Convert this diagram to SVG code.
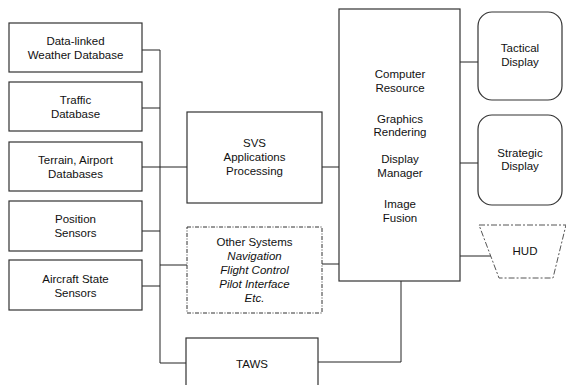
<svg xmlns="http://www.w3.org/2000/svg" width="566" height="385" viewBox="0 0 566 385">
  <style>
    .box { fill: #fff; stroke: #333; stroke-width: 1.2; }
    .dash { fill: #fff; stroke: #333; stroke-width: 1; stroke-dasharray: 4 1.5 1 1.5; }
    .hud { fill: #fff; stroke: #555; stroke-width: 1; stroke-dasharray: 6 2 2 2; }
    .wire { fill: none; stroke: #222; stroke-width: 1; }
    text { font-family: "Liberation Sans", Arial, sans-serif; font-size: 11.5px; fill: #111; text-anchor: middle; }
    .it { font-style: italic; }
  </style>
  <rect width="566" height="385" fill="#fff"/>

  <g id="connectors">
    <!-- input bus -->
    <path class="wire" d="M142 50H160V363H186"/>
    <path class="wire" d="M142 108H160"/>
    <path class="wire" d="M142 167H187"/>
    <path class="wire" d="M142 231H160"/>
    <path class="wire" d="M142 286H160"/>
    <path class="wire" d="M160 265H187"/>
    <!-- processing to computer resource -->
    <path class="wire" d="M322 167H339"/>
    <path class="wire" d="M322 264H339"/>
    <path class="wire" d="M318 362H401V281"/>
    <!-- outputs -->
    <path class="wire" d="M460 62H478"/>
    <path class="wire" d="M460 163H478"/>
    <path class="wire" d="M460 256H491"/>
  </g>

  <g id="weather-db">
    <rect class="box" x="9" y="23" width="133" height="49"/>
    <text x="75.5" y="45">Data-linked</text>
    <text x="75.5" y="59">Weather Database</text>
  </g>
  <g id="traffic-db">
    <rect class="box" x="9" y="82" width="133" height="49"/>
    <text x="75.5" y="104">Traffic</text>
    <text x="75.5" y="118">Database</text>
  </g>
  <g id="terrain-db">
    <rect class="box" x="9" y="142" width="133" height="49"/>
    <text x="75.5" y="164">Terrain, Airport</text>
    <text x="75.5" y="178">Databases</text>
  </g>
  <g id="position-sensors">
    <rect class="box" x="9" y="201" width="133" height="50"/>
    <text x="75.5" y="223">Position</text>
    <text x="75.5" y="237">Sensors</text>
  </g>
  <g id="aircraft-state">
    <rect class="box" x="9" y="260" width="133" height="50"/>
    <text x="75.5" y="283">Aircraft State</text>
    <text x="75.5" y="297">Sensors</text>
  </g>

  <g id="svs-processing">
    <rect class="box" x="187" y="112" width="135" height="91"/>
    <text x="254.5" y="147">SVS</text>
    <text x="254.5" y="161">Applications</text>
    <text x="254.5" y="175">Processing</text>
  </g>
  <g id="other-systems">
    <rect class="dash" x="187" y="227" width="135" height="86"/>
    <text x="254.5" y="246">Other Systems</text>
    <text class="it" x="254.5" y="260">Navigation</text>
    <text class="it" x="254.5" y="274">Flight Control</text>
    <text class="it" x="254.5" y="288">Pilot Interface</text>
    <text class="it" x="254.5" y="302">Etc.</text>
  </g>
  <g id="taws">
    <rect class="box" x="186" y="338" width="132" height="60"/>
    <text x="252" y="368">TAWS</text>
  </g>

  <g id="computer-resource">
    <rect class="box" x="339" y="9" width="121" height="272"/>
    <text x="400" y="78">Computer</text>
    <text x="400" y="92">Resource</text>
    <text x="400" y="123">Graphics</text>
    <text x="400" y="136">Rendering</text>
    <text x="400" y="163">Display</text>
    <text x="400" y="177">Manager</text>
    <text x="400" y="208">Image</text>
    <text x="400" y="222">Fusion</text>
  </g>

  <g id="tactical-display">
    <rect class="box" x="478" y="12" width="84" height="88" rx="14"/>
    <text x="520" y="52">Tactical</text>
    <text x="520" y="66">Display</text>
  </g>
  <g id="strategic-display">
    <rect class="box" x="478" y="115" width="84" height="90" rx="14"/>
    <text x="520" y="157">Strategic</text>
    <text x="520" y="170">Display</text>
  </g>
  <g id="hud">
    <path class="hud" d="M479 225H566L553 278H499Z"/>
    <text x="525" y="255">HUD</text>
  </g>
</svg>
